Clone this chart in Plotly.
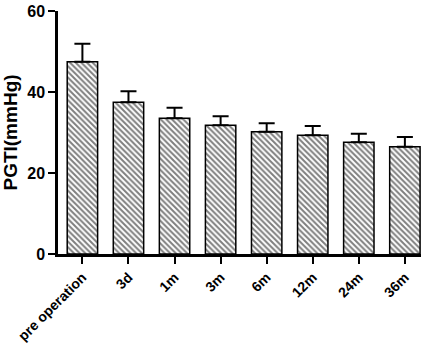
import plotly.graph_objects as go

categories = ["pre operation", "3d", "1m", "3m", "6m", "12m", "24m", "36m"]
values = [47.5, 37.5, 33.5, 31.8, 30.2, 29.3, 27.6, 26.5]
errors = [4.4, 2.7, 2.6, 2.2, 2.1, 2.3, 2.1, 2.4]
y_ticks = [0, 20, 40, 60]

fig = go.Figure()
fig.add_trace(go.Bar(
    x=categories,
    y=values,
    width=0.66,
    marker=dict(
        color="white",
        line=dict(color="black", width=1.5),
        pattern=dict(shape="\\", fgcolor="black", bgcolor="white", size=4, solidity=0.5),
    ),
    error_y=dict(type="data", symmetric=False, array=errors, arrayminus=[0] * len(errors),
                 color="black", thickness=2, width=8),
))

font_family = "Liberation Sans, Arial, sans-serif"
fig.update_layout(
    width=433, height=353,
    margin=dict(l=58, r=12, t=11, b=99),
    plot_bgcolor="white", paper_bgcolor="white",
    showlegend=False,
    font=dict(family=font_family, color="black"),
)
fig.update_yaxes(
    range=[0, 60], tickvals=y_ticks, showgrid=False, zeroline=False,
    automargin=False,
    showline=True, linecolor="black", linewidth=2.5,
    ticks="outside", ticklen=7, tickwidth=2, tickcolor="black",
    tickfont=dict(size=16, family=font_family, weight="bold"),
    title=dict(text="<b>PGTI(mmHg)</b>", font=dict(size=19, family=font_family), standoff=6),
)
fig.update_xaxes(
    range=[-0.53, 7.35], showgrid=False, zeroline=False,
    automargin=False,
    showline=True, linecolor="black", linewidth=2.5,
    ticks="outside", ticklen=7, tickwidth=2, tickcolor="black",
    tickangle=-45,
    tickfont=dict(size=14, family=font_family, weight="bold"),
)

fig.write_html("out.html", config={"displayModeBar": False},
               post_script="document.body.style.margin='0';")
